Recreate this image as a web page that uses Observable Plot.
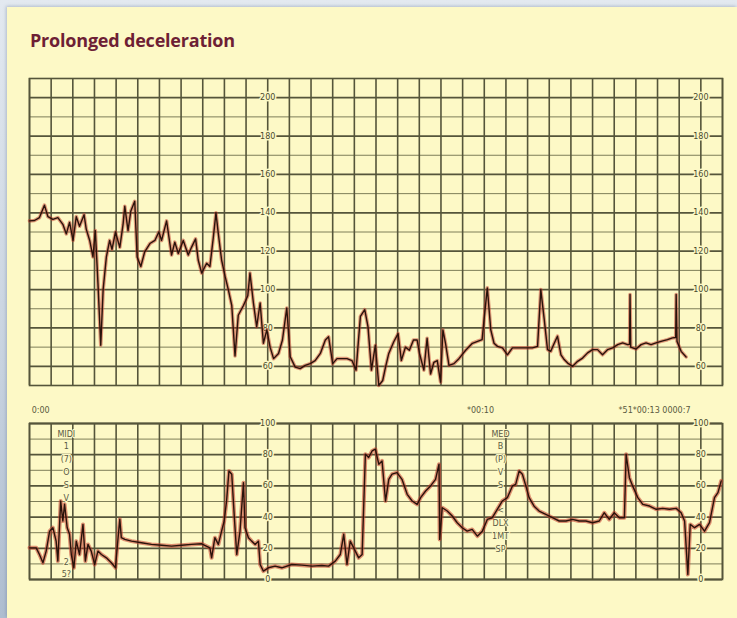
<!DOCTYPE html>
<html>
<head>
<meta charset="utf-8">
<script src="https://cdn.jsdelivr.net/npm/d3@7"></script>
<script src="https://cdn.jsdelivr.net/npm/@observablehq/plot@0.6"></script>
<style>
  html, body { margin: 0; padding: 0; }
  body {
    width: 737px; height: 618px; overflow: hidden; position: relative;
    background: linear-gradient(180deg, #e3e9f0 0%, #c7d2df 60%, #aebdd0 100%);
  }
  #panel {
    position: absolute; left: 7px; top: 7px; width: 730px; height: 611px;
    background: #fdf9c6;
    box-shadow: -1px -1px 3px rgba(90,110,140,0.35);
  }
  #title {
    position: absolute; left: 30px; top: 28px;
    font-family: "Open Sans", sans-serif; font-weight: 700; font-size: 18px;
    letter-spacing: -0.2px;
    color: #6e1f35;
  }
  #top { position: absolute; left: 0; top: 0; }
  #bottom { position: absolute; left: 0; top: 395px; }
</style>
</head>
<body>
<div id="panel"></div>
<div id="title">Prolonged deceleration</div>
<div id="top"></div>
<div id="bottom"></div>
<script>
// ---- Fetal heart rate (bpm) trace, time in grid squares ----
const fhrTime = [0.00,0.23,0.46,0.69,0.85,1.08,1.31,1.54,1.70,1.85,2.01,2.16,2.31,2.52,2.62,2.78,2.93,3.04,3.16,3.29,3.40,3.55,3.70,3.81,3.97,4.17,4.32,4.40,4.55,4.68,4.86,4.97,5.14,5.32,5.56,5.79,5.97,6.10,6.33,6.56,6.71,6.87,7.10,7.33,7.48,7.67,7.79,7.95,8.18,8.33,8.49,8.61,8.72,8.87,9.03,9.18,9.34,9.49,9.64,9.88,10.08,10.18,10.34,10.49,10.65,10.80,10.96,11.11,11.27,11.50,11.68,11.88,12.04,12.27,12.50,12.73,12.96,13.19,13.43,13.66,13.81,14.00,14.20,14.43,14.66,14.89,15.08,15.28,15.48,15.63,15.79,15.97,16.13,16.31,16.44,16.59,16.82,17.02,17.17,17.36,17.54,17.73,17.90,18.01,18.21,18.36,18.52,18.67,18.83,18.98,19.09,19.21,19.37,19.60,19.83,20.14,20.45,20.75,20.90,20.99,21.14,21.30,21.45,21.61,21.84,22.07,22.30,22.61,22.92,23.22,23.46,23.61,23.77,23.92,24.07,24.23,24.38,24.54,24.69,24.85,25.08,25.31,25.54,25.77,26.00,26.23,26.46,26.70,26.93,27.16,27.39,27.62,27.71,27.73,27.76,28.01,28.24,28.47,28.70,28.93,29.16,29.46,29.69,29.84,29.86,29.90,30.09,30.32];
const fhrValue = [135.8,136,137.5,144,138,136.6,137.5,134,129,135,125.6,138,133,139,131.5,125.6,117,130.7,103.5,71,100,117,125.6,121,130,122,134,143.4,130.7,141,146,117,112,119.7,124,125.6,130,125.6,135.8,118,124.7,118.8,125.6,118,122,126.4,115.4,108.6,113.7,112,127.3,140,129,115.4,107,100,91.7,65.4,86.6,91.7,96.8,108.6,93,80.7,93,72,79,70,64,66.7,73.7,90.4,65,59.6,58.8,60.5,61.4,63,66.7,73.7,75.4,61.4,64,64,64,63,58,86,89.5,80.7,58,71,50,52.6,59.6,66.7,72.8,77,63,70,68.4,73.7,73.7,66.7,58,74.6,56,62,63,51.8,79,72,60.5,61.4,64,68.4,72,73.3,73.9,84.3,100.9,79,72,70.4,69.6,66,69.6,69.6,69.6,69.6,70.4,100,84.3,68.7,67.8,72,75.7,66,63.5,61.7,60,62.6,64.3,67,68.7,68.7,66,68.7,69.6,71.3,72.2,71.3,71.5,97.4,70,69,71.3,72.2,71.3,72.2,73,73.9,74.8,75,97.4,73,67.8,64.9];

// ---- Uterine activity trace ----
const uaTime = [0.00,0.31,0.46,0.62,0.77,0.93,1.08,1.23,1.31,1.44,1.54,1.62,1.74,1.85,1.93,2.05,2.16,2.31,2.47,2.58,2.70,2.85,3.01,3.16,3.32,3.55,3.78,3.97,4.09,4.17,4.24,4.40,4.71,5.17,5.63,6.10,6.56,7.02,7.48,7.95,8.33,8.41,8.56,8.72,8.87,8.99,9.10,9.21,9.34,9.46,9.57,9.72,9.88,9.95,10.11,10.26,10.42,10.57,10.65,10.80,11.03,11.34,11.65,12.11,12.58,13.04,13.50,13.81,14.12,14.35,14.51,14.66,14.81,14.97,15.20,15.36,15.51,15.66,15.82,15.97,16.13,16.28,16.44,16.59,16.74,16.97,17.20,17.44,17.67,17.90,18.06,18.29,18.52,18.75,18.91,18.94,19.06,19.29,19.52,19.75,19.98,20.21,20.44,20.68,20.91,21.14,21.37,21.60,21.83,22.07,22.30,22.45,22.61,22.76,22.92,23.07,23.30,23.53,23.84,24.15,24.46,24.77,25.08,25.38,25.69,26.00,26.31,26.54,26.77,27.00,27.24,27.47,27.55,27.70,27.85,28.09,28.32,28.63,28.94,29.24,29.55,29.86,30.09,30.25,30.40,30.51,30.71,30.94,31.17,31.40,31.63,31.79,31.94];
const uaValue = [20.3,20.3,16,10.7,18.2,31,33.2,24.6,11.8,50.3,37.5,48.2,33.2,29,16,7.5,24.6,16,35.3,11.8,22.5,18.2,9.6,18.2,16,13.9,10.7,7.5,26.8,38.6,26.8,25.7,24.6,23.6,22.5,22,21.4,22,22.5,22.9,20.3,13.9,26.8,22.5,31,37.5,50.3,69.6,67.5,39.6,16,31,62,33.2,26.8,24.6,22.5,24.6,9.6,5.4,7.5,8.6,7.5,9.6,9.2,8.6,9,8.6,11.8,16,29,9.6,24.6,20.3,13.9,16,80.3,78.2,82.4,83.5,73.9,76,50.3,64.2,67.5,68.5,64.2,54.6,50.3,48.2,52.5,56.7,60,64.2,73.9,25.7,46,43.9,40.7,36.4,33.2,31,32.1,27.8,31,38.5,39.6,45,50.3,52.5,60,61,69.6,67.5,60,52.5,47,43.9,41.8,39.6,37.5,37.5,38.5,37.5,37.5,36.4,37.5,42.8,38.5,42.8,39.6,39.6,80.3,65.3,60,52.5,48.2,47.1,45,45.6,45,45.6,42.8,37.5,3.2,35.3,33.2,35.3,31,36.4,52.5,55.7,63.2];

// ---- Scale labels ----
const fhrLabels = [200, 180, 160, 140, 120, 100, 80, 60];
const uaLabels = [100, 80, 60, 40, 20, 0];
const labelColumns = [11, 31];
const stampTexts = ["0:00", "*00:10", "*51*00:13 0000:7"];
const stampTimes = [0.1, 20.2, 27.2];
const markerLeft = ["MIDI", "1", "(7)", "O", "S", "V", "", "", "", "", "2", "5?"];
const markerRight = ["MED", "B", "(P)", "V", "S", "", "<", "DLX", "1MT", "SP"];
const markerTimes = [1.7, 21.75];

const BG = "#fdf9c6";
const DARK = "#55553a";
const THIN = "#7e7e58";
const INK = "#2a130b";
const HALO = "#c23a2a";

const fhr = fhrTime.map((t, i) => ({t, v: fhrValue[i]}));
const ua = uaTime.map((t, i) => ({t, v: uaValue[i]}));
const cols = d3.range(0, 33);

function labelRows(vals) {
  return labelColumns.flatMap(c => vals.map(v => ({t: c, v, s: String(v)})));
}

const topPlot = Plot.plot({
  width: 737, height: 395,
  marginLeft: 29, marginRight: 15, marginTop: 78, marginBottom: 10,
  x: {domain: [0, 32], axis: null},
  y: {domain: [50, 210], axis: null},
  style: {background: "transparent", overflow: "visible"},
  marks: [
    Plot.ruleY(d3.range(70, 210, 20), {stroke: THIN, strokeWidth: 1}),
    Plot.ruleY(fhrLabels, {stroke: DARK, strokeWidth: 1.8}),
    Plot.ruleX(cols, {stroke: DARK, strokeWidth: 1.6}),
    Plot.frame({stroke: DARK, strokeWidth: 1.6}),
    Plot.text(labelRows(fhrLabels), {x: "t", y: "v", text: "s", fontSize: 8, fill: "#4a4a2c",
      stroke: BG, strokeWidth: 3, fontFamily: "DejaVu Sans"}),
    Plot.line(fhr, {x: "t", y: "v", stroke: HALO, strokeWidth: 3.6, strokeOpacity: 0.5}),
    Plot.line(fhr, {x: "t", y: "v", stroke: INK, strokeWidth: 1.4})
  ]
});
document.getElementById("top").append(topPlot);

const bottomPlot = Plot.plot({
  width: 737, height: 200,
  marginLeft: 29, marginRight: 15, marginTop: 28, marginBottom: 16,
  x: {domain: [0, 32], axis: null},
  y: {domain: [0, 100], axis: null},
  style: {background: "transparent", overflow: "visible"},
  marks: [
    Plot.ruleY(d3.range(10, 100, 20), {stroke: THIN, strokeWidth: 1}),
    Plot.ruleY(uaLabels, {stroke: DARK, strokeWidth: 1.8}),
    Plot.ruleX(cols, {stroke: DARK, strokeWidth: 1.6}),
    Plot.frame({stroke: DARK, strokeWidth: 1.6}),
    Plot.text(labelRows(uaLabels), {x: "t", y: "v", text: "s", fontSize: 8, fill: "#4a4a2c",
      stroke: BG, strokeWidth: 3, fontFamily: "DejaVu Sans"}),
    Plot.text(stampTexts, {x: (d, i) => stampTimes[i], y: () => 100, text: d => d, dy: -13,
      textAnchor: "start", fontSize: 8, fill: "#5a5a40", fontFamily: "DejaVu Sans"}),
    Plot.text([markerLeft.join("\n"), markerRight.join("\n")], {
      x: (d, i) => markerTimes[i], y: () => 100, text: d => d,
      lineAnchor: "top", dy: 4, lineHeight: 1.6, fontSize: 8, fill: "#5a5a44",
      stroke: BG, strokeWidth: 2, fontFamily: "DejaVu Sans"}),
    Plot.line(ua, {x: "t", y: "v", stroke: HALO, strokeWidth: 4, strokeOpacity: 0.55}),
    Plot.line(ua, {x: "t", y: "v", stroke: INK, strokeWidth: 1.4})
  ]
});
document.getElementById("bottom").append(bottomPlot);
</script>
</body>
</html>
